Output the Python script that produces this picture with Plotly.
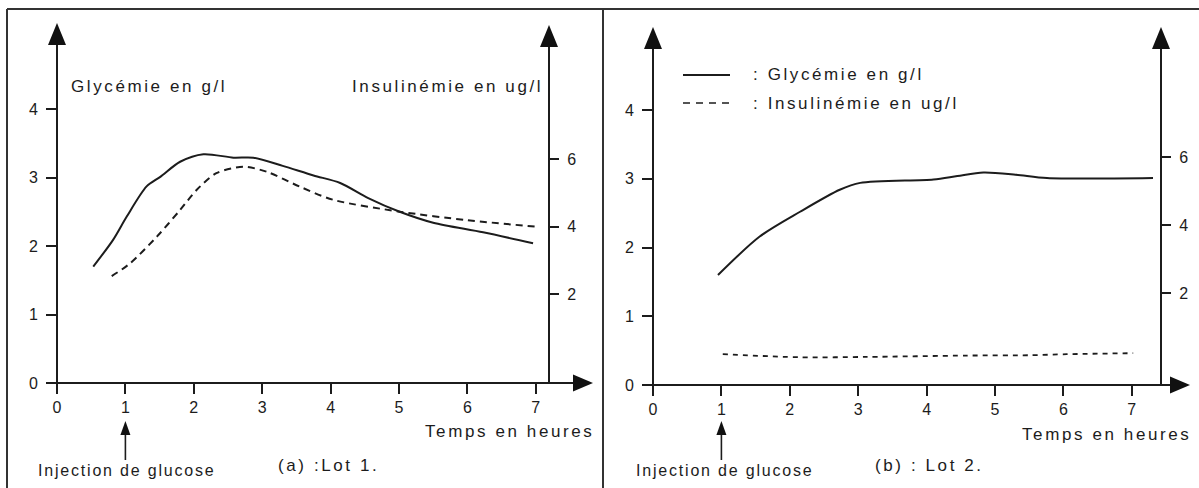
import plotly.graph_objects as go

# ---------------- data ----------------
lot1_time_gly = [0.53, 0.82, 1.02, 1.31, 1.51, 1.80, 2.14, 2.58, 2.87, 3.30, 3.75, 4.14, 4.55, 5.01, 5.50, 6.23, 6.96]
lot1_glycemie = [1.70, 2.09, 2.43, 2.87, 3.01, 3.23, 3.34, 3.29, 3.29, 3.17, 3.03, 2.92, 2.70, 2.50, 2.34, 2.20, 2.04]

lot1_time_ins = [0.80, 1.07, 1.46, 1.80, 2.04, 2.33, 2.72, 3.07, 3.55, 4.04, 5.01, 5.99, 7.02]
lot1_insuline = [2.53, 2.91, 3.70, 4.49, 5.08, 5.58, 5.77, 5.62, 5.18, 4.79, 4.44, 4.19, 3.99]

lot2_time_gly = [0.95, 1.56, 2.15, 2.73, 3.03, 4.10, 4.45, 4.83, 5.30, 5.76, 7.31]
lot2_glycemie = [1.60, 2.16, 2.52, 2.84, 2.94, 2.99, 3.04, 3.09, 3.06, 3.01, 3.01]

lot2_time_ins = [1.02, 2.15, 3.12, 4.59, 5.50, 6.05, 7.02]
lot2_insuline = [0.20, 0.11, 0.12, 0.16, 0.17, 0.20, 0.23]

time_ticks = [0, 1, 2, 3, 4, 5, 6, 7]
gly_ticks = [0, 1, 2, 3, 4]
ins_ticks = [2, 4, 6]

# ---------------- layout geometry (pixels) ----------------
W, H = 1199, 488
INK = "#1c1c1c"
FONT = "Liberation Sans, Arial, sans-serif"
SP = "letter-spacing:2.6px"


def fx(px):
    return px / W


def fy(py):
    return 1 - py / H


panels = [
    dict(x0=57, sx=68.4, y0=383, sy=68.5, i0=361.5, si=33.75, xd=(0, 603), right=549,
         ytip=23, rtip=25, xtip=593, xa="x", ya="y", ya2="y2"),
    dict(x0=653, sx=68.4, y0=385, sy=68.75, i0=361, si=34.0, xd=(603, 1199), right=1161,
         ytip=27, rtip=27, xtip=1190, xa="x2", ya="y3", ya2="y4"),
]

fig = go.Figure()

series = [
    (lot1_time_gly, lot1_glycemie, "x", "y", None, 2.0),
    (lot1_time_ins, lot1_insuline, "x", "y2", "7px,5px", 2.0),
    (lot2_time_gly, lot2_glycemie, "x2", "y3", None, 2.0),
    (lot2_time_ins, lot2_insuline, "x2", "y4", "5px,5px", 1.8),
]
for xs, ys, xa, ya, dash, w in series:
    fig.add_trace(go.Scatter(
        x=xs, y=ys, xaxis=xa, yaxis=ya, mode="lines", showlegend=False, hoverinfo="skip",
        line=dict(color=INK, width=w, dash=dash, shape="spline", smoothing=0.8),
    ))

layout = dict(
    width=W, height=H, margin=dict(l=0, r=0, t=0, b=0),
    paper_bgcolor="white", plot_bgcolor="rgba(0,0,0,0)",
    font=dict(family=FONT, color=INK, size=16),
    showlegend=False,
)

shapes = []
annotations = []

for i, p in enumerate(panels):
    xr = [(p["xd"][0] - p["x0"]) / p["sx"], (p["xd"][1] - p["x0"]) / p["sx"]]
    yr = [(p["y0"] - H) / p["sy"], p["y0"] / p["sy"]]
    ir = [(p["i0"] - H) / p["si"], p["i0"] / p["si"]]
    common = dict(showgrid=False, zeroline=False, showline=False, ticks="outside",
                  tickwidth=2, tickcolor=INK, tickfont=dict(size=16, color=INK, family=FONT),
                  fixedrange=True)
    xkey = "xaxis" if i == 0 else "xaxis2"
    ykey = "yaxis" if i == 0 else "yaxis3"
    y2key = "yaxis2" if i == 0 else "yaxis4"
    layout[xkey] = dict(common, domain=[fx(p["xd"][0]), fx(p["xd"][1])], range=xr,
                        tickvals=time_ticks, ticklen=10, anchor="free", position=fy(p["y0"]))
    layout[ykey] = dict(common, domain=[0, 1], range=yr, tickvals=gly_ticks, ticklen=11,
                        anchor="free", position=fx(p["x0"]), side="left", ticklabelstandoff=5)
    layout[y2key] = dict(common, range=ir, tickvals=ins_ticks, ticklen=9, anchor="free",
                         overlaying=p["ya"], position=fx(p["right"]), side="right",
                         ticklabelstandoff=5)

    xa, ya = p["xa"], p["ya"]
    sx, sy = p["sx"], p["sy"]
    # axis lines (data coordinates of this panel)
    x_start = -10 / sx
    x_tip = (p["xtip"] - p["x0"]) / sx
    x_base = x_tip - 20 / sx
    y_tip = (p["y0"] - p["ytip"]) / sy
    y_base = y_tip - 22 / sy
    xrt = (p["right"] - p["x0"]) / sx
    r_tip = (p["y0"] - p["rtip"]) / sy
    r_base = r_tip - 22 / sy
    line = dict(color=INK, width=2)
    shapes += [
        dict(type="line", xref=xa, yref=ya, x0=x_start, x1=x_base + 0.02, y0=0, y1=0, line=line),
        dict(type="line", xref=xa, yref=ya, x0=0, x1=0, y0=0, y1=y_base + 0.02, line=line),
        dict(type="line", xref=xa, yref=ya, x0=xrt, x1=xrt, y0=0, y1=r_base + 0.02, line=line),
    ]
    hy, hx = 8.5 / sy, 9 / sx
    tri = dict(type="path", xref=xa, yref=ya, fillcolor="#111", line=dict(width=0))
    shapes += [
        dict(tri, path=f"M {x_base},{-hy} L {x_tip},0 L {x_base},{hy} Z"),
        dict(tri, path=f"M {-hx},{y_base} L 0,{y_tip} L {hx},{y_base} Z"),
        dict(tri, path=f"M {xrt - hx},{r_base} L {xrt},{r_tip} L {xrt + hx},{r_base} Z"),
    ]
    # injection arrow under t = 1
    a_bot = (p["y0"] - 460) / sy
    a_base = (p["y0"] - 435) / sy
    a_tip = (p["y0"] - 421) / sy
    ah = 5 / sx
    shapes += [
        dict(type="line", xref=xa, yref=ya, x0=1, x1=1, y0=a_bot, y1=a_base, line=dict(color=INK, width=1.6)),
        dict(tri, path=f"M {1 - ah},{a_base} L 1,{a_tip} L {1 + ah},{a_base} Z"),
    ]

# frame
frame = dict(color="#333", width=2)
shapes += [
    dict(type="line", xref="paper", yref="paper", x0=fx(7), x1=fx(1199), y0=fy(9), y1=fy(9), line=frame),
    dict(type="line", xref="paper", yref="paper", x0=fx(7), x1=fx(7), y0=fy(9), y1=fy(488), line=frame),
    dict(type="line", xref="paper", yref="paper", x0=fx(603), x1=fx(603), y0=fy(9), y1=fy(488), line=frame),
]

# legend key (right panel)
shapes += [
    dict(type="line", xref="paper", yref="paper", x0=fx(683), x1=fx(730), y0=fy(75), y1=fy(75),
         line=dict(color=INK, width=1.8)),
    dict(type="line", xref="paper", yref="paper", x0=fx(683), x1=fx(730), y0=fy(103), y1=fy(103),
         line=dict(color=INK, width=1.6, dash="7px,6px")),
]


def txt(text, x, y, xanchor="left", size=17, sp=SP):
    return dict(text=f'<span style="{sp}">{text}</span>', x=fx(x), y=fy(y), xref="paper", yref="paper",
                xanchor=xanchor, yanchor="middle", showarrow=False,
                font=dict(family=FONT, size=size, color=INK))


annotations += [
    txt("Glycémie en g/l", 69, 86),
    txt("Insulinémie en ug/l", 545, 86, xanchor="right"),
    txt("Temps en heures", 596, 431, xanchor="right"),
    txt("(a) :Lot 1.", 276, 465),
    txt("Injection de glucose", 36, 470, size=16, sp="letter-spacing:1.8px"),
    txt(": Glycémie en g/l", 751, 74),
    txt(": Insulinémie en ug/l", 751, 103),
    txt("(b) : Lot 2.", 873, 465),
    txt("Temps en heures", 1193, 434, xanchor="right"),
    txt("Injection de glucose", 634, 470, size=16, sp="letter-spacing:1.8px"),
]

layout["shapes"] = shapes
layout["annotations"] = annotations
fig.update_layout(**layout)
fig.write_html(
    "out.html",
    config={"displayModeBar": False},
    post_script="document.body.style.margin='0';document.body.style.overflow='hidden';",
)
